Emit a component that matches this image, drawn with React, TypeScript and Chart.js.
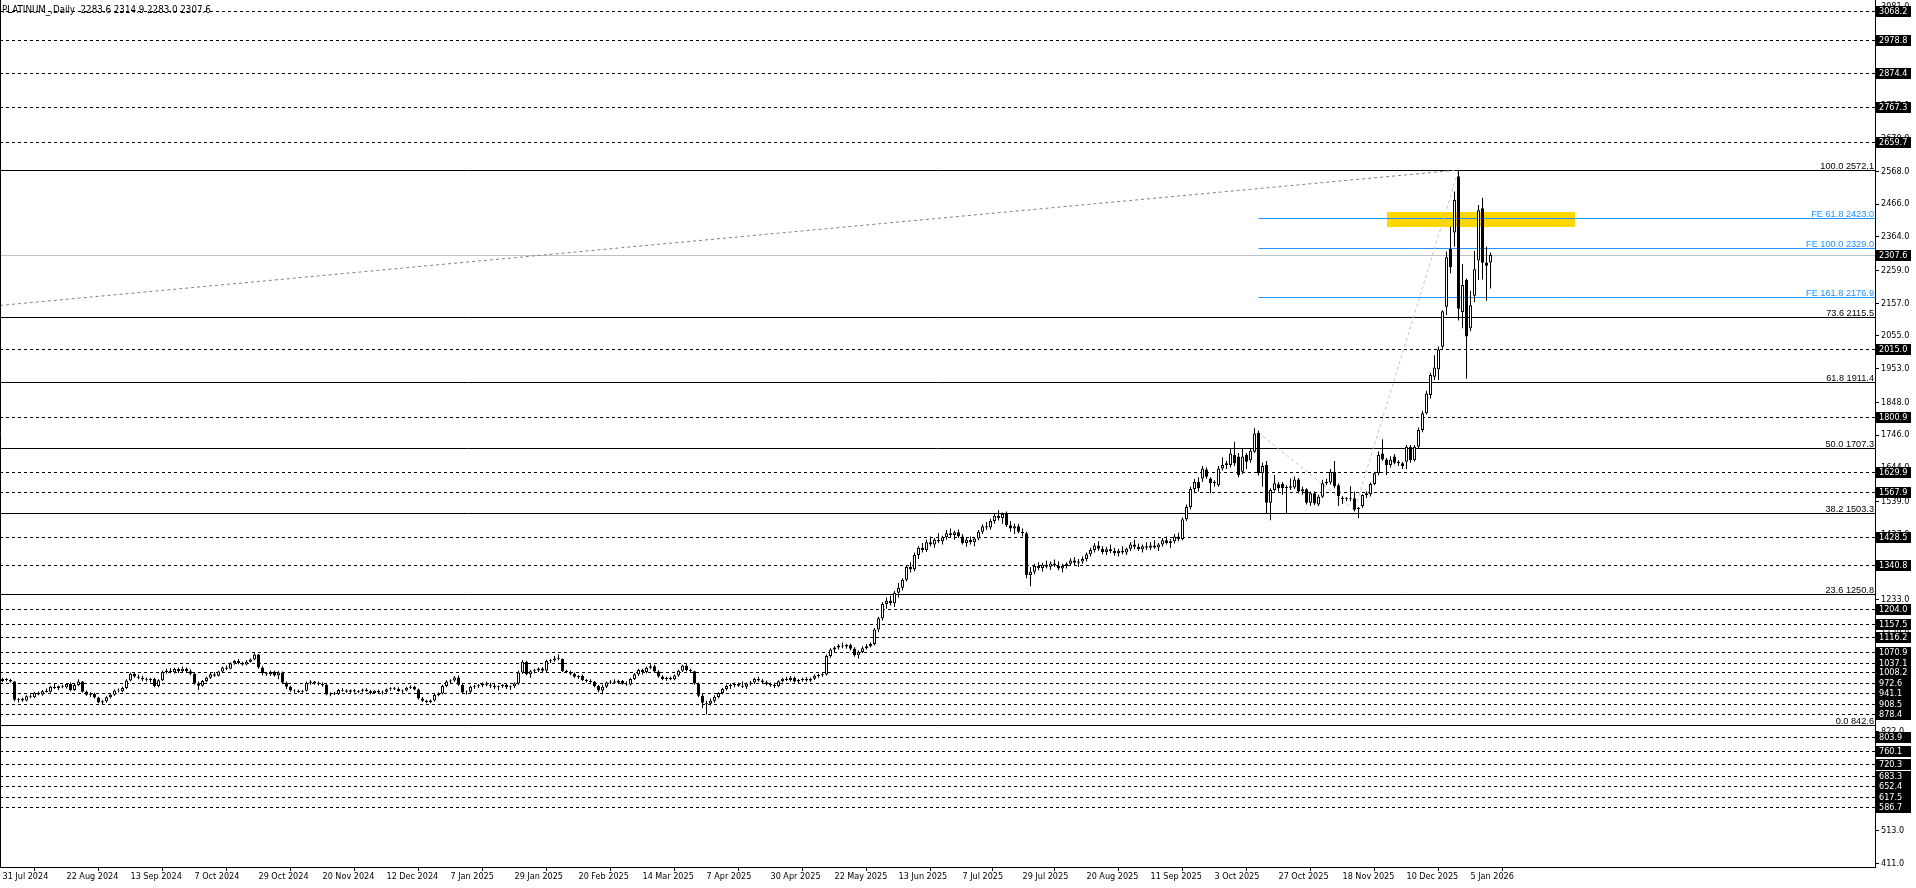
import React, { useEffect, useRef } from "react";
import { Chart, registerables } from "chart.js";

Chart.register(...registerables);

const chartTitle = "PLATINUM_,Daily  2283.6 2314.9 2283.0 2307.6";

const dateTickLabels = [
  "31 Jul 2024", "22 Aug 2024", "13 Sep 2024", "7 Oct 2024", "29 Oct 2024", "20 Nov 2024",
  "12 Dec 2024", "7 Jan 2025", "29 Jan 2025", "20 Feb 2025", "14 Mar 2025", "7 Apr 2025",
  "30 Apr 2025", "22 May 2025", "13 Jun 2025", "7 Jul 2025", "29 Jul 2025", "20 Aug 2025",
  "11 Sep 2025", "3 Oct 2025", "27 Oct 2025", "18 Nov 2025", "10 Dec 2025", "5 Jan 2026",
];
const dateTickBars = [0, 16, 32, 48, 64, 80, 96, 112, 128, 144, 160, 176, 192, 208, 224, 240, 255, 271, 287, 303, 319, 335, 351, 367];

const priceTicks = [411, 513, 615, 717, 822, 924, 1026, 1128, 1233, 1335, 1437, 1539, 1644, 1746, 1848, 1953, 2055, 2157, 2259, 2364, 2466, 2568, 2670, 2772, 2874, 2976, 3081];

const opens = [
  980, 986, 983, 978, 921, 924, 919, 932, 929, 943,
  938, 948, 946, 962, 958, 963, 960, 970, 952, 967,
  978, 946, 937, 940, 928, 913, 917, 929, 937, 950,
  948, 958, 981, 1002, 994, 990, 985, 983, 986, 964,
  982, 1008, 1012, 1007, 1017, 1010, 1018, 1010, 1002, 972,
  965, 980, 990, 1001, 996, 1009, 1022, 1018, 1035, 1042,
  1036, 1031, 1040, 1047, 1062, 1022, 1004, 1001, 1008, 997,
  1006, 974, 962, 950, 948, 946, 949, 974, 978, 972,
  970, 968, 938, 941, 939, 952, 950, 946, 951, 947,
  949, 953, 948, 942, 949, 944, 946, 954, 957, 955,
  948, 950, 959, 962, 953, 925, 918, 914, 919, 936,
  941, 964, 978, 981, 991, 968, 944, 946, 962, 964,
  966, 972, 968, 965, 960, 963, 968, 960, 963, 972,
  1006, 1040, 1001, 1010, 1013, 1019, 1012, 1042, 1044, 1050,
  1048, 1010, 1008, 1002, 993, 995, 983, 979, 977, 964,
  950, 962, 975, 978, 974, 980, 971, 969, 986, 1001,
  1014, 1008, 1021, 1026, 1009, 994, 986, 990, 985, 997,
  1012, 1027, 1014, 1010, 972, 934, 912, 909, 918, 930,
  942, 955, 964, 967, 970, 965, 962, 972, 975, 986,
  981, 976, 970, 967, 963, 979, 987, 983, 990, 978,
  983, 986, 981, 987, 996, 998, 1000, 1058, 1078, 1084,
  1090, 1087, 1092, 1080, 1060, 1070, 1082, 1088, 1095, 1140,
  1175, 1220, 1230, 1222, 1255, 1270, 1295, 1335, 1328, 1372,
  1395, 1388, 1412, 1405, 1420, 1415, 1428, 1440, 1435, 1443,
  1430, 1410, 1420, 1412, 1424, 1445, 1462, 1458, 1478, 1495,
  1488, 1500, 1465, 1455, 1462, 1445, 1440, 1310, 1320, 1338,
  1332, 1342, 1336, 1346, 1340, 1330, 1338, 1345, 1355, 1348,
  1352, 1360, 1375, 1388, 1402, 1392, 1382, 1390, 1385, 1378,
  1386, 1380, 1392, 1405, 1398, 1390, 1400, 1395, 1402, 1396,
  1405, 1418, 1410, 1415, 1430, 1422, 1484, 1522, 1578, 1600,
  1611, 1639, 1611, 1600, 1590, 1642, 1653, 1653, 1684, 1679,
  1632, 1684, 1668, 1694, 1753, 1627, 1653, 1535, 1575, 1593,
  1594, 1584, 1582, 1583, 1608, 1570, 1577, 1535, 1565, 1530,
  1554, 1596, 1598, 1632, 1590, 1549, 1549, 1550, 1549, 1516,
  1525, 1559, 1562, 1594, 1627, 1689, 1670, 1653, 1679, 1662,
  1658, 1663, 1710, 1668, 1710, 1762, 1814,
  1871, 1928, 1951, 2021, 2146, 2326, 2377, 2553, 2130, 2229, 2079, 2180, 2290, 2453, 2284, 2283.6,
];
const highs = [
  990, 989, 987, 980, 927, 928, 935, 938, 946, 947,
  952, 956, 965, 972, 966, 968, 973, 975, 970, 985,
  980, 950, 945, 943, 931, 920, 932, 940, 953, 956,
  962, 985, 1006, 1005, 1000, 996, 991, 990, 990, 985,
  1012, 1018, 1020, 1021, 1022, 1025, 1022, 1016, 1006, 978,
  983, 993, 1005, 1008, 1012, 1025, 1028, 1038, 1045, 1048,
  1040, 1045, 1050, 1066, 1064, 1026, 1008, 1012, 1012, 1010,
  1009, 978, 965, 954, 953, 952, 978, 982, 980, 978,
  976, 972, 945, 946, 955, 958, 954, 953, 955, 952,
  956, 957, 952, 951, 953, 950, 956, 960, 962, 960,
  953, 962, 966, 965, 956, 930, 921, 922, 940, 945,
  968, 982, 985, 995, 997, 970, 950, 965, 968, 970,
  975, 977, 974, 970, 966, 970, 972, 966, 975, 1012,
  1045, 1043, 1015, 1018, 1022, 1023, 1046, 1048, 1058, 1062,
  1050, 1015, 1012, 1006, 998, 1000, 987, 985, 980, 968,
  968, 978, 982, 985, 984, 983, 978, 990, 1005, 1018,
  1018, 1025, 1032, 1030, 1013, 998, 993, 994, 1000, 1015,
  1030, 1032, 1018, 1012, 975, 940, 918, 925, 935, 945,
  958, 968, 972, 975, 975, 978, 975, 980, 990, 993,
  987, 981, 975, 974, 982, 990, 993, 995, 994, 986,
  990, 992, 990, 1000, 1002, 1004, 1062, 1082, 1088, 1095,
  1100, 1096, 1096, 1085, 1075, 1088, 1095, 1100, 1145, 1180,
  1225, 1240, 1245, 1260, 1285, 1300, 1340, 1350, 1380, 1400,
  1410, 1420, 1430, 1425, 1440, 1432, 1450, 1455, 1448, 1452,
  1438, 1425, 1430, 1428, 1450, 1468, 1475, 1485, 1500, 1512,
  1505, 1508, 1478, 1470, 1470, 1455, 1445, 1335, 1345, 1350,
  1348, 1355, 1352, 1358, 1352, 1345, 1350, 1362, 1365, 1360,
  1368, 1380, 1395, 1410, 1415, 1400, 1398, 1405, 1395, 1392,
  1400, 1395, 1412, 1420, 1408, 1405, 1412, 1412, 1418, 1410,
  1425, 1430, 1422, 1438, 1442, 1490, 1530, 1585, 1610, 1615,
  1650, 1645, 1615, 1605, 1650, 1677, 1665, 1705, 1725, 1690,
  1705, 1690, 1705, 1767, 1760, 1660, 1665, 1580, 1622, 1600,
  1600, 1590, 1611, 1617, 1612, 1585, 1580, 1570, 1570, 1560,
  1606, 1610, 1640, 1665, 1595, 1556, 1553, 1587, 1570, 1522,
  1562, 1570, 1598, 1632, 1695, 1733, 1675, 1680, 1687, 1668,
  1663, 1715, 1715, 1715, 1770, 1822, 1884,
  1940, 1995, 2022, 2135, 2318, 2395, 2505, 2572.1, 2279, 2234, 2196, 2320, 2463, 2486, 2333, 2314.9,
];
const lows = [
  976, 978, 975, 917, 913, 915, 916, 926, 927, 935,
  934, 944, 944, 955, 951, 957, 956, 948, 949, 963,
  944, 934, 930, 925, 910, 905, 912, 926, 934, 944,
  945, 955, 979, 990, 985, 980, 978, 975, 960, 960,
  980, 1002, 1004, 1003, 1005, 1008, 1007, 998, 968, 952,
  962, 976, 986, 992, 994, 1005, 1014, 1016, 1030, 1032,
  1028, 1029, 1037, 1044, 1018, 998, 996, 995, 994, 985,
  970, 955, 946, 944, 942, 943, 947, 968, 968, 966,
  962, 935, 932, 936, 936, 946, 943, 942, 944, 942,
  945, 946, 938, 939, 940, 938, 943, 949, 952, 946,
  943, 948, 955, 950, 922, 914, 910, 910, 916, 932,
  938, 960, 970, 977, 965, 940, 938, 942, 955, 958,
  960, 963, 958, 955, 950, 958, 955, 952, 958, 968,
  1002, 998, 990, 1004, 1008, 1008, 1008, 1036, 1040, 1044,
  1008, 1004, 998, 990, 986, 980, 975, 972, 960, 945,
  938, 958, 970, 972, 970, 968, 965, 966, 983, 995,
  1000, 1004, 1016, 1005, 990, 982, 980, 982, 982, 993,
  1008, 1010, 1005, 968, 930, 895, 876, 903, 912, 926,
  938, 950, 955, 960, 962, 958, 955, 966, 970, 978,
  972, 966, 962, 958, 960, 975, 980, 978, 975, 972,
  977, 978, 976, 983, 990, 993, 997, 1052, 1070, 1078,
  1082, 1080, 1075, 1055, 1050, 1066, 1078, 1084, 1090, 1132,
  1168, 1205, 1215, 1210, 1240, 1262, 1290, 1318, 1322, 1360,
  1380, 1382, 1400, 1395, 1410, 1405, 1420, 1428, 1420, 1425,
  1405, 1398, 1405, 1400, 1418, 1438, 1450, 1452, 1470, 1480,
  1470, 1460, 1445, 1438, 1440, 1430, 1300, 1275, 1312, 1325,
  1320, 1330, 1326, 1335, 1325, 1318, 1330, 1338, 1340, 1335,
  1345, 1352, 1368, 1380, 1385, 1375, 1372, 1378, 1370, 1368,
  1375, 1372, 1385, 1390, 1385, 1380, 1388, 1388, 1392, 1385,
  1398, 1405, 1395, 1408, 1415, 1418, 1478, 1515, 1565, 1570,
  1600, 1610, 1565, 1585, 1585, 1636, 1640, 1645, 1650, 1615,
  1625, 1640, 1660, 1690, 1620, 1585, 1502, 1481, 1570, 1570,
  1560, 1500, 1575, 1578, 1565, 1560, 1530, 1525, 1528, 1525,
  1550, 1590, 1592, 1580, 1525, 1531, 1540, 1540, 1508, 1487,
  1520, 1550, 1555, 1590, 1620, 1665, 1622, 1645, 1655, 1650,
  1640, 1640, 1660, 1664, 1705, 1755, 1810,
  1860, 1918, 1918, 2015, 2120, 2250, 2333, 2103, 2079, 1922, 2070, 2160, 2229, 2231, 2165, 2203,
];
const closes = [
  986, 983, 978, 921, 924, 919, 932, 929, 943, 938,
  948, 946, 962, 958, 963, 960, 970, 952, 967, 978,
  946, 937, 940, 928, 913, 917, 929, 937, 950, 948,
  958, 981, 1002, 994, 990, 985, 983, 986, 964, 982,
  1008, 1012, 1007, 1017, 1010, 1018, 1010, 1002, 972, 965,
  980, 990, 1001, 996, 1009, 1022, 1018, 1035, 1042, 1036,
  1031, 1040, 1047, 1062, 1022, 1004, 1001, 1008, 997, 1006,
  974, 962, 950, 948, 946, 949, 974, 978, 972, 970,
  968, 938, 941, 939, 952, 950, 946, 951, 947, 949,
  953, 948, 942, 949, 944, 946, 954, 957, 955, 948,
  950, 959, 962, 953, 925, 918, 914, 919, 936, 941,
  964, 978, 981, 991, 968, 944, 946, 962, 964, 966,
  972, 968, 965, 960, 963, 968, 960, 963, 972, 1006,
  1040, 1001, 1010, 1013, 1019, 1012, 1042, 1044, 1050, 1048,
  1010, 1008, 1002, 993, 995, 983, 979, 977, 964, 950,
  962, 975, 978, 974, 980, 971, 969, 986, 1001, 1014,
  1008, 1021, 1026, 1009, 994, 986, 990, 985, 997, 1012,
  1027, 1014, 1010, 972, 934, 912, 909, 918, 930, 942,
  955, 964, 967, 970, 965, 962, 972, 975, 986, 981,
  976, 970, 967, 963, 979, 987, 983, 990, 978, 983,
  986, 981, 987, 996, 998, 1000, 1058, 1078, 1084, 1090,
  1087, 1092, 1080, 1060, 1070, 1082, 1088, 1095, 1140, 1175,
  1220, 1230, 1222, 1255, 1270, 1295, 1335, 1328, 1372, 1395,
  1388, 1412, 1405, 1420, 1415, 1428, 1440, 1435, 1443, 1430,
  1410, 1420, 1412, 1424, 1445, 1462, 1458, 1478, 1495, 1488,
  1500, 1465, 1455, 1462, 1445, 1440, 1310, 1320, 1338, 1332,
  1342, 1336, 1346, 1340, 1330, 1338, 1345, 1355, 1348, 1352,
  1360, 1375, 1388, 1402, 1392, 1382, 1390, 1385, 1378, 1386,
  1380, 1392, 1405, 1398, 1390, 1400, 1395, 1402, 1396, 1405,
  1418, 1410, 1415, 1430, 1422, 1484, 1522, 1578, 1600, 1580,
  1642, 1616, 1596, 1597, 1642, 1653, 1658, 1689, 1658, 1622,
  1679, 1663, 1697, 1751, 1627, 1650, 1535, 1575, 1596, 1580,
  1580, 1582, 1587, 1608, 1570, 1577, 1535, 1565, 1533, 1554,
  1596, 1601, 1632, 1587, 1556, 1548, 1547, 1548, 1513, 1518,
  1559, 1565, 1594, 1627, 1684, 1670, 1653, 1670, 1660, 1658,
  1650, 1710, 1668, 1710, 1762, 1814, 1876,
  1933, 1957, 2013, 2132, 2300, 2269, 2479, 2140, 2214, 2053, 2151, 2263, 2447, 2283, 2274, 2307.6,
];

const boxedLevels = [3068.2, 2978.8, 2874.4, 2767.3, 2659.7, 2015.0, 1800.9, 1629.9, 1567.9, 1428.5, 1340.8, 1204.0, 1157.5, 1116.2, 1070.9, 1037.1, 1008.2, 972.6, 941.1, 908.5, 878.4, 803.9, 760.1, 720.3, 683.3, 652.4, 617.5, 586.7];
const fibRatios = ["100.0", "73.6", "61.8", "50.0", "38.2", "23.6", "0.0"];
const fibPrices = [2572.1, 2115.5, 1911.4, 1707.3, 1503.3, 1250.8, 842.6];
const feRatios = ["61.8", "100.0", "161.8"];
const fePrices = [2423.0, 2329.0, 2176.9];
const lastPrice = 2307.6;
const fePathBars = [314, 338, 364];
const fePathPrices = [1753.5, 1512.6, 2572.1];
const retraceLineBars = [-0.625, 364];
const retraceLinePrices = [2150, 2572.1];
const zoneBars = [346, 393];
const zonePrices = [2441, 2395];

const FONT = '"DejaVu Sans Condensed", "Liberation Sans", Arial, sans-serif';
const LABEL_FONT = '"Liberation Sans", Arial, sans-serif';

function hline(ctx: CanvasRenderingContext2D, x1: number, x2: number, y: number) {
  const py = Math.round(y) + 0.5;
  ctx.beginPath();
  ctx.moveTo(x1, py);
  ctx.lineTo(x2, py);
  ctx.stroke();
}

const overlayPlugin = {
  id: "overlay",
  beforeDatasetsDraw(chart: any) {
    const { ctx, chartArea: a } = chart;
    const xs = chart.scales.x;
    const ys = chart.scales.y;
    ctx.save();
    ctx.beginPath();
    ctx.rect(a.left, a.top, a.right - a.left, a.bottom - a.top);
    ctx.clip();
    const zx1 = Math.round(xs.getPixelForValue(zoneBars[0]));
    const zx2 = Math.round(xs.getPixelForValue(zoneBars[1]));
    const zy1 = Math.round(ys.getPixelForValue(zonePrices[0]));
    const zy2 = Math.round(ys.getPixelForValue(zonePrices[1]));
    ctx.fillStyle = "#FFD700";
    ctx.fillRect(zx1, zy1, zx2 - zx1, zy2 - zy1);

    ctx.lineWidth = 1;
    ctx.strokeStyle = "#000000";
    ctx.setLineDash([3, 3]);
    for (const v of boxedLevels) hline(ctx, a.left, a.right, ys.getPixelForValue(v));
    ctx.setLineDash([]);
    for (const v of fibPrices) hline(ctx, a.left, a.right, ys.getPixelForValue(v));
    ctx.strokeStyle = "#C0C0C0";
    hline(ctx, a.left, a.right, ys.getPixelForValue(lastPrice));
    ctx.strokeStyle = "#1E90FF";
    const feX = xs.getPixelForValue(fePathBars[0]);
    for (const v of fePrices) hline(ctx, feX, a.right, ys.getPixelForValue(v));
    ctx.strokeStyle = "#808080";
    ctx.setLineDash([3, 3]);
    ctx.beginPath();
    ctx.moveTo(xs.getPixelForValue(retraceLineBars[0]), ys.getPixelForValue(retraceLinePrices[0]));
    ctx.lineTo(xs.getPixelForValue(retraceLineBars[1]), ys.getPixelForValue(retraceLinePrices[1]));
    ctx.stroke();
    ctx.strokeStyle = "#C0C0C0";
    ctx.beginPath();
    fePathBars.forEach((b, i) => {
      const px = xs.getPixelForValue(b);
      const py = ys.getPixelForValue(fePathPrices[i]);
      if (i === 0) ctx.moveTo(px, py);
      else ctx.lineTo(px, py);
    });
    ctx.stroke();
    ctx.setLineDash([]);
    ctx.restore();
  },
  afterDatasetsDraw(chart: any) {
    const { ctx, chartArea: a } = chart;
    const ys = chart.scales.y;
    ctx.save();
    ctx.font = `9.2px ${LABEL_FONT}`;
    ctx.textAlign = "right";
    ctx.textBaseline = "alphabetic";
    ctx.fillStyle = "#000000";
    fibPrices.forEach((v, i) => {
      const py = Math.round(ys.getPixelForValue(v));
      ctx.fillText(`${fibRatios[i]} ${v.toFixed(1)}`, a.right - 1, py - 1);
    });
    ctx.fillStyle = "#1E90FF";
    fePrices.forEach((v, i) => {
      const py = Math.round(ys.getPixelForValue(v));
      ctx.fillText(`FE ${feRatios[i]} ${v.toFixed(1)}`, a.right - 1, py - 1);
    });
    ctx.textAlign = "left";
    ctx.textBaseline = "middle";
    ctx.fillStyle = "#000000";
    ctx.font = `9.7px ${FONT}`;
    ctx.fillText(chartTitle, 2, 10);
    ctx.strokeStyle = "#000000";
    ctx.lineWidth = 1;
    ctx.beginPath();
    ctx.moveTo(a.left + 0.5, a.top);
    ctx.lineTo(a.left + 0.5, a.bottom);
    ctx.stroke();
    ctx.restore();
  },
  afterDraw(chart: any) {
    const { ctx, chartArea: a } = chart;
    const ys = chart.scales.y;
    ctx.save();
    ctx.font = `9px ${FONT}`;
    ctx.textAlign = "left";
    ctx.textBaseline = "middle";
    const all = [...boxedLevels, lastPrice];
    for (const v of all) {
      const py = Math.round(ys.getPixelForValue(v));
      ctx.fillStyle = "#000000";
      ctx.fillRect(a.right + 1, py - 5, 35, 11);
      ctx.fillStyle = "#FFFFFF";
      ctx.fillText(v.toFixed(1), a.right + 4, py + 0.5);
    }
    ctx.restore();
  },
};

export default function App() {
  const ref = useRef<HTMLCanvasElement>(null);
  useEffect(() => {
    document.body.style.margin = "0";
    const canvas = ref.current!;
    const bodies = opens.map((o, i) => {
      const c = closes[i];
      let lo = Math.min(o, c);
      let hi = Math.max(o, c);
      if (hi - lo < 3) {
        const m = (hi + lo) / 2;
        lo = m - 1.5;
        hi = m + 1.5;
      }
      return { x: i, y: [lo, hi] };
    });
    const bodyColors = opens.map((o, i) => (closes[i] >= o ? "#FFFFFF" : "#000000"));
    const wicks = highs.map((h, i) => ({ x: i, y: [lows[i], h] }));
    const tickFont = { family: FONT, size: 9 };
    const chart = new Chart(canvas, {
      type: "bar",
      data: {
        datasets: [
          {
            label: "body",
            data: bodies as any,
            backgroundColor: bodyColors,
            borderColor: "#000000",
            borderWidth: 1,
            borderSkipped: false,
            barThickness: 3,
            grouped: false,
            inflateAmount: 0,
            order: 0,
          } as any,
          {
            label: "wick",
            data: wicks as any,
            backgroundColor: "#000000",
            borderWidth: 0,
            barThickness: 1,
            grouped: false,
            inflateAmount: 0,
            order: 1,
          } as any,
        ],
      },
      options: {
        animation: false,
        responsive: false,
        maintainAspectRatio: false,
        events: [],
        layout: { padding: 0 },
        plugins: { legend: { display: false }, tooltip: { enabled: false }, title: { display: false } },
        scales: {
          x: {
            type: "linear",
            min: -0.625,
            max: 468.125,
            bounds: "data",
            offset: false,
            grid: { drawOnChartArea: false, drawTicks: true, tickLength: 4, color: "#000000" },
            border: { display: true, color: "#000000" },
            ticks: {
              autoSkip: false,
              maxRotation: 0,
              minRotation: 0,
              align: "start",
              padding: 0,
              color: "#000000",
              font: tickFont,
              callback: (v: any) => {
                const k = dateTickBars.indexOf(Number(v));
                return k >= 0 ? dateTickLabels[k] : "";
              },
            },
            afterBuildTicks: (s: any) => {
              s.ticks = dateTickBars.map((b) => ({ value: b }));
            },
            afterFit: (s: any) => {
              s.height = 21;
              s.paddingLeft = 0;
              s.paddingRight = 0;
            },
          } as any,
          y: {
            type: "linear",
            position: "right",
            min: 400.1,
            max: 3101.9,
            bounds: "data",
            grid: { drawOnChartArea: false, drawTicks: true, tickLength: 4, color: "#000000" },
            border: { display: true, color: "#000000" },
            ticks: {
              padding: 2,
              color: "#000000",
              font: tickFont,
              callback: (v: any) => Number(v).toFixed(1),
            },
            afterBuildTicks: (s: any) => {
              s.ticks = priceTicks.map((p) => ({ value: p }));
            },
            afterFit: (s: any) => {
              s.width = 41;
              s.paddingTop = 0;
              s.paddingBottom = 0;
            },
          } as any,
        },
      },
      plugins: [overlayPlugin],
    });
    return () => chart.destroy();
  }, []);
  return (
    <div style={{ width: 1916, height: 888 }}>
      <canvas ref={ref} width={1916} height={888} style={{ display: "block", width: 1916, height: 888 }} />
    </div>
  );
}
